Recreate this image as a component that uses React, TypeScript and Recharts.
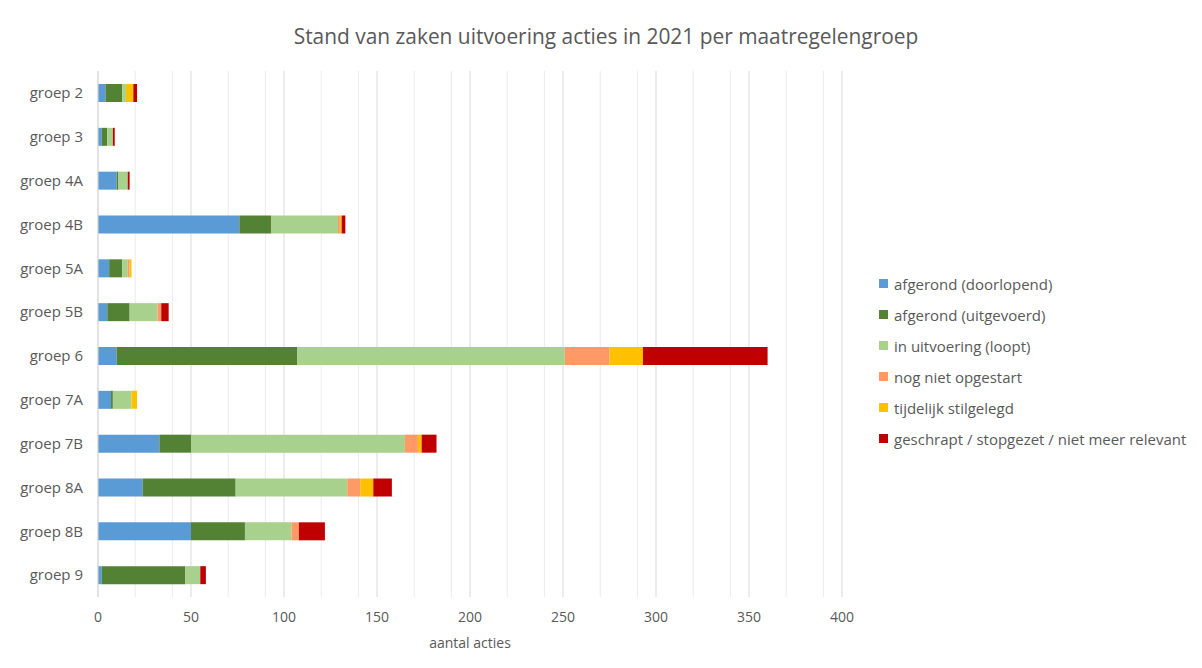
import { BarChart, Bar, XAxis, YAxis, CartesianGrid } from "recharts"

const groepen = ["groep 2", "groep 3", "groep 4A", "groep 4B", "groep 5A", "groep 5B", "groep 6", "groep 7A", "groep 7B", "groep 8A", "groep 8B", "groep 9"]

// aantal acties per status, zelfde volgorde als groepen
const doorlopend = [4, 2, 10, 76, 6, 5, 10, 7, 33, 24, 50, 2]
const uitgevoerd = [9, 3, 1, 17, 7, 12, 97, 1, 17, 50, 29, 45]
const loopt = [2, 3, 5, 36, 3, 15, 144, 10, 115, 60, 25, 8]
const nietGestart = [0, 0, 0, 1, 1, 2, 24, 0, 7, 7, 4, 0]
const stilgelegd = [4, 0, 0, 1, 1, 0, 18, 3, 2, 7, 0, 0]
const geschrapt = [2, 1, 1, 2, 0, 4, 67, 0, 8, 10, 14, 3]

const xTicks = [0, 50, 100, 150, 200, 250, 300, 350, 400]
const minorTicks = [10, 20, 30, 40, 60, 70, 80, 90, 110, 120, 130, 140, 160, 170, 180, 190, 210, 220, 230, 240, 260, 270, 280, 290, 310, 320, 330, 340, 360, 370, 380, 390]

const series = [
    { key: "doorlopend", name: "afgerond (doorlopend)", color: "#5B9BD5", values: doorlopend },
    { key: "uitgevoerd", name: "afgerond (uitgevoerd)", color: "#548235", values: uitgevoerd },
    { key: "loopt", name: "in uitvoering (loopt)", color: "#A9D18E", values: loopt },
    { key: "nietGestart", name: "nog niet opgestart", color: "#FF9966", values: nietGestart },
    { key: "stilgelegd", name: "tijdelijk stilgelegd", color: "#FFC000", values: stilgelegd },
    { key: "geschrapt", name: "geschrapt / stopgezet / niet meer relevant", color: "#C00000", values: geschrapt },
]

const data = groepen.map((groep, i) => {
    const row: any = { groep }
    series.forEach((s) => {
        row[s.key] = s.values[i]
    })
    return row
})

const FONT = "'Open Sans', sans-serif"
const GREY = "#595959"

export default function App() {
    return (
        <div style={{ marginTop: -1, marginLeft: -1 }}>
            <div
                style={{
                    position: "relative",
                    width: 1200,
                    height: 670,
                    border: "1px solid #d9d9d9",
                    fontFamily: FONT,
                    background: "#fff",
                }}
            >
                <div
                    style={{
                        position: "absolute",
                        left: 0,
                        width: 1196,
                        top: 14,
                        textAlign: "center",
                        fontSize: 20.9,
                        color: GREY,
                    }}
                >
                    Stand van zaken uitvoering acties in 2021 per maatregelengroep
                </div>

                <BarChart
                    width={1190}
                    height={660}
                    data={data}
                    layout="vertical"
                    margin={{ top: 63, right: 356, bottom: 19, left: 0 }}
                >
                    {/* fijne lijnen om de 10 */}
                    <CartesianGrid
                        horizontal={false}
                        verticalValues={minorTicks}
                        stroke="#ebebeb"
                    />
                    <CartesianGrid
                        horizontal={false}
                        stroke="#d9d9d9"
                    />
                    <XAxis
                        type="number"
                        domain={[0, 400]}
                        ticks={xTicks}
                        axisLine={false}
                        tickLine={false}
                        tickMargin={9}
                        height={52}
                        tick={{ fill: GREY, fontSize: 14, fontFamily: FONT }}
                        label={{
                            value: "aantal acties",
                            position: "insideBottom",
                            offset: 1,
                            fill: GREY,
                            fontSize: 14,
                            fontFamily: FONT,
                        }}
                    />
                    <YAxis
                        type="category"
                        dataKey="groep"
                        width={90}
                        tickLine={false}
                        tickMargin={9}
                        axisLine={{ stroke: "#d9d9d9" }}
                        tick={{ fill: GREY, fontSize: 15, fontFamily: FONT }}
                    />
                    {series.map((s) => (
                        <Bar
                            key={s.key}
                            dataKey={s.key}
                            name={s.name}
                            stackId="a"
                            fill={s.color}
                            barSize={18}
                            isAnimationActive={false}
                        />
                    ))}
                </BarChart>

                <div
                    style={{
                        position: "absolute",
                        left: 871,
                        top: 260,
                        fontSize: 15,
                        color: GREY,
                    }}
                >
                    {series.map((s) => (
                        <div
                            key={s.key}
                            style={{
                                height: 31,
                                display: "flex",
                                alignItems: "center",
                            }}
                        >
                            <span
                                style={{
                                    width: 9,
                                    height: 9,
                                    background: s.color,
                                    marginRight: 6,
                                    display: "inline-block",
                                }}
                            />
                            {s.name}
                        </div>
                    ))}
                </div>
            </div>
        </div>
    )
}
